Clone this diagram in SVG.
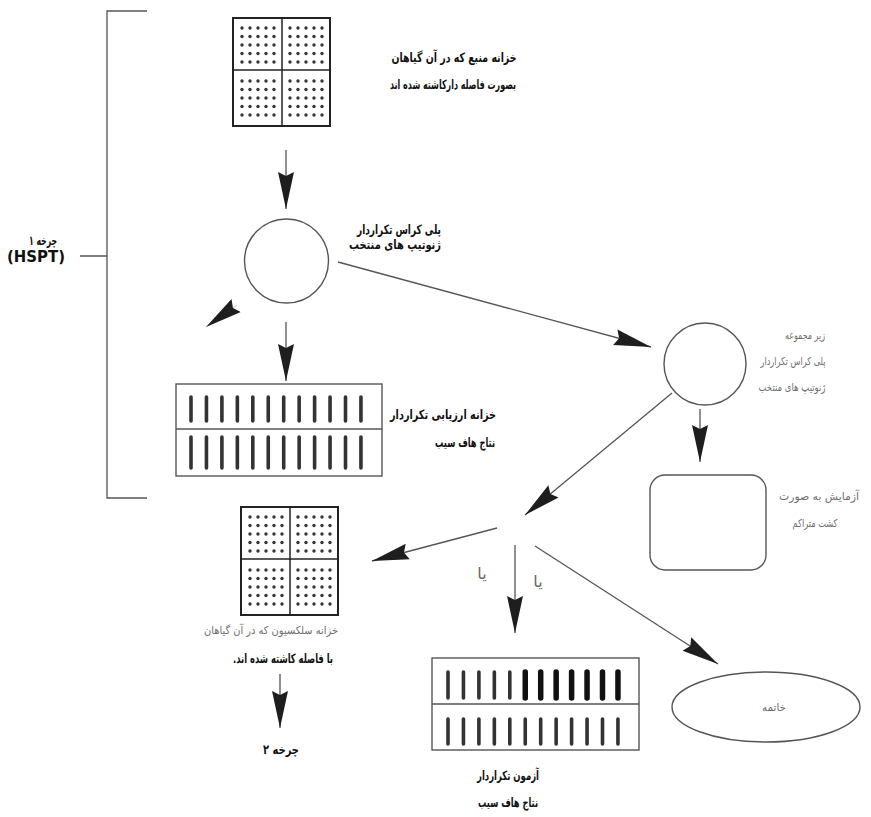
<svg xmlns="http://www.w3.org/2000/svg" xmlns:xlink="http://www.w3.org/1999/xlink" width="871" height="817" viewBox="0 0 871 817">
<style>
.ln{stroke:#555;stroke-width:1.3;fill:none}
.sh{stroke:#555;stroke-width:1.4;fill:#fff}
.fa{font-family:"DejaVu Sans","Noto Sans",sans-serif;direction:rtl;unicode-bidi:embed;text-anchor:middle}
.b{font-weight:bold;font-size:13px;fill:#111}
.g{font-size:11px;fill:#6e6e6e}
.bar{stroke:#333;stroke-width:3.6;stroke-linecap:round;fill:none}
.bark{stroke:#111;stroke-width:5.5;stroke-linecap:round;fill:none}
.dot{fill:#333}
</style>
<defs>
<marker id="ah" markerUnits="userSpaceOnUse" markerWidth="38" markerHeight="18" viewBox="0 0 38 18" refX="37" refY="9" orient="auto">
<path d="M0,1 L37,9 L0,17 L4,9 Z" fill="#1e1e1e"/>
</marker>
<g id="q">
<g class="dot">
<circle cx="0" cy="0" r="1.7"/><circle cx="8" cy="0" r="1.7"/><circle cx="16" cy="0" r="1.7"/><circle cx="24" cy="0" r="1.7"/><circle cx="32" cy="0" r="1.7"/>
<circle cx="0" cy="8.5" r="1.7"/><circle cx="8" cy="8.5" r="1.7"/><circle cx="16" cy="8.5" r="1.7"/><circle cx="24" cy="8.5" r="1.7"/><circle cx="32" cy="8.5" r="1.7"/>
<circle cx="0" cy="17" r="1.7"/><circle cx="8" cy="17" r="1.7"/><circle cx="16" cy="17" r="1.7"/><circle cx="24" cy="17" r="1.7"/><circle cx="32" cy="17" r="1.7"/>
<circle cx="0" cy="25.5" r="1.7"/><circle cx="8" cy="25.5" r="1.7"/><circle cx="16" cy="25.5" r="1.7"/><circle cx="24" cy="25.5" r="1.7"/><circle cx="32" cy="25.5" r="1.7"/>
<circle cx="0" cy="34" r="1.7"/><circle cx="8" cy="34" r="1.7"/><circle cx="16" cy="34" r="1.7"/><circle cx="24" cy="34" r="1.7"/><circle cx="32" cy="34" r="1.7"/>
</g>
</g>
<g id="grid">
<rect x="0" y="0" width="97" height="108" fill="#fff" stroke="#222" stroke-width="2"/>
<line x1="49" y1="0" x2="49" y2="108" stroke="#222" stroke-width="1.5"/>
<line x1="0" y1="52" x2="97" y2="52" stroke="#222" stroke-width="1.5"/>
<use xlink:href="#q" x="9" y="10"/><use xlink:href="#q" x="57" y="10"/>
<use xlink:href="#q" x="9" y="63"/><use xlink:href="#q" x="57" y="63"/>
</g>
</defs>
<rect width="871" height="817" fill="#fff"/>

<g id="bracket">
<path class="ln" d="M147,11 H107 V498 H147 M80,256 H107"/>
<text class="fa b" x="43" y="245" font-size="12" textLength="28" lengthAdjust="spacingAndGlyphs">چرخه ۱</text>
<text x="36" y="262" font-family="DejaVu Sans, sans-serif" font-weight="bold" font-size="15" text-anchor="middle" fill="#111" textLength="58" lengthAdjust="spacingAndGlyphs">(HSPT)</text>
</g>

<g id="connectors">
<line class="ln" x1="286" y1="150" x2="286" y2="209" marker-end="url(#ah)"/>
<line class="ln" x1="286" y1="322" x2="286" y2="381" marker-end="url(#ah)"/>
<line class="ln" x1="338" y1="262" x2="651" y2="347" marker-end="url(#ah)"/>
<line class="ln" x1="237" y1="305" x2="206" y2="327" marker-end="url(#ah)" stroke-opacity="0.2"/>
<line class="ln" x1="700" y1="409" x2="700" y2="462" marker-end="url(#ah)"/>
<line class="ln" x1="672" y1="393" x2="525" y2="515" marker-end="url(#ah)"/>
<line class="ln" x1="497" y1="528" x2="372" y2="561" marker-end="url(#ah)"/>
<line class="ln" x1="515" y1="545" x2="515" y2="633" marker-end="url(#ah)"/>
<line class="ln" x1="535" y1="546" x2="718" y2="664" marker-end="url(#ah)"/>
<line class="ln" x1="280" y1="674" x2="280" y2="728" marker-end="url(#ah)"/>
<text class="fa" x="482" y="579" font-size="16" fill="#666">یا</text>
<text class="fa" x="538" y="587" font-size="16" fill="#666">یا</text>
</g>

<g id="source">
<use xlink:href="#grid" x="233" y="18"/>
<text class="fa b" x="454" y="62" textLength="125" lengthAdjust="spacingAndGlyphs">خزانه منبع که در آن گیاهان</text>
<text class="fa b" x="453" y="89" textLength="126" lengthAdjust="spacingAndGlyphs">بصورت فاصله دارکاشته شده اند</text>
</g>

<g id="polycross">
<circle class="sh" cx="286.5" cy="261" r="42"/>
<text class="fa b" x="399" y="234" textLength="84" lengthAdjust="spacingAndGlyphs">پلی کراس تکراردار</text>
<text class="fa b" x="395" y="249" textLength="92" lengthAdjust="spacingAndGlyphs">ژنوتیپ های منتخب</text>
</g>

<g id="eval">
<rect class="sh" x="176" y="384" width="206" height="92"/>
<line class="ln" x1="176" y1="429" x2="382" y2="429"/>
<path class="bar" d="M191,397 v24 m15.45,-24 v24 m15.45,-24 v24 m15.45,-24 v24 m15.45,-24 v24 m15.45,-24 v24 m15.45,-24 v24 m15.45,-24 v24 m15.45,-24 v24 m15.45,-24 v24 m15.45,-24 v24 m15.45,-24 v24"/>
<path class="bar" d="M191,437 v31 m15.45,-31 v31 m15.45,-31 v31 m15.45,-31 v31 m15.45,-31 v31 m15.45,-31 v31 m15.45,-31 v31 m15.45,-31 v31 m15.45,-31 v31 m15.45,-31 v31 m15.45,-31 v31 m15.45,-31 v31"/>
<text class="fa b" x="443" y="419" textLength="106" lengthAdjust="spacingAndGlyphs">خزانه ارزیابی تکراردار</text>
<text class="fa b" x="465" y="447" textLength="60" lengthAdjust="spacingAndGlyphs">نتاج هاف سیب</text>
</g>

<g id="subset">
<circle class="sh" cx="705" cy="364" r="41"/>
<text class="fa g" x="805" y="339" textLength="40" lengthAdjust="spacingAndGlyphs">زیر مجموعه</text>
<text class="fa g" x="793" y="365" textLength="65" lengthAdjust="spacingAndGlyphs">پلی کراس تکراردار</text>
<text class="fa g" x="792" y="391" textLength="67" lengthAdjust="spacingAndGlyphs">ژنوتیپ های منتخب</text>
</g>

<g id="dense">
<rect class="sh" x="650" y="475" width="116" height="95" rx="15"/>
<text class="fa g" x="819" y="500" textLength="80" lengthAdjust="spacingAndGlyphs">آزمایش به صورت</text>
<text class="fa g" x="815" y="527" textLength="45" lengthAdjust="spacingAndGlyphs">کشت متراکم</text>
</g>

<g id="selection">
<use xlink:href="#grid" x="241" y="507"/>
<text class="fa g" x="271" y="634" textLength="134" lengthAdjust="spacingAndGlyphs">خزانه سلکسیون که در آن گیاهان</text>
<text class="fa b" x="283" y="663" textLength="100" lengthAdjust="spacingAndGlyphs">با فاصله کاشته شده اند.</text>
</g>

<g id="cycle2">
<text class="fa b" x="281" y="754" font-size="13.5" textLength="36" lengthAdjust="spacingAndGlyphs">چرخه ۲</text>
</g>

<g id="test">
<rect class="sh" x="432" y="658" width="207" height="92"/>
<line class="ln" x1="432" y1="704" x2="639" y2="704"/>
<path class="bar" d="M448,672 v26 m15.45,-26 v26 m15.45,-26 v26 m15.45,-26 v26 m15.45,-26 v26"/>
<path class="bark" d="M525.25,672 v26 m15.45,-26 v26 m15.45,-26 v26 m15.45,-26 v26 m15.45,-26 v26 m15.45,-26 v26 m15.45,-26 v26"/>
<path class="bar" d="M448,719 v25 m15.45,-25 v25 m15.45,-25 v25 m15.45,-25 v25 m15.45,-25 v25 m15.45,-25 v25 m15.45,-25 v25 m15.45,-25 v25 m15.45,-25 v25 m15.45,-25 v25 m15.45,-25 v25 m15.45,-25 v25"/>
<text class="fa b" x="508" y="780" textLength="62" lengthAdjust="spacingAndGlyphs">آزمون تکراردار</text>
<text class="fa b" x="508" y="807" textLength="60" lengthAdjust="spacingAndGlyphs">نتاج هاف سیب</text>
</g>

<g id="end">
<ellipse class="sh" cx="766" cy="707" rx="94" ry="35"/>
<text class="fa g" x="774" y="711" textLength="24" lengthAdjust="spacingAndGlyphs">خاتمه</text>
</g>
</svg>
